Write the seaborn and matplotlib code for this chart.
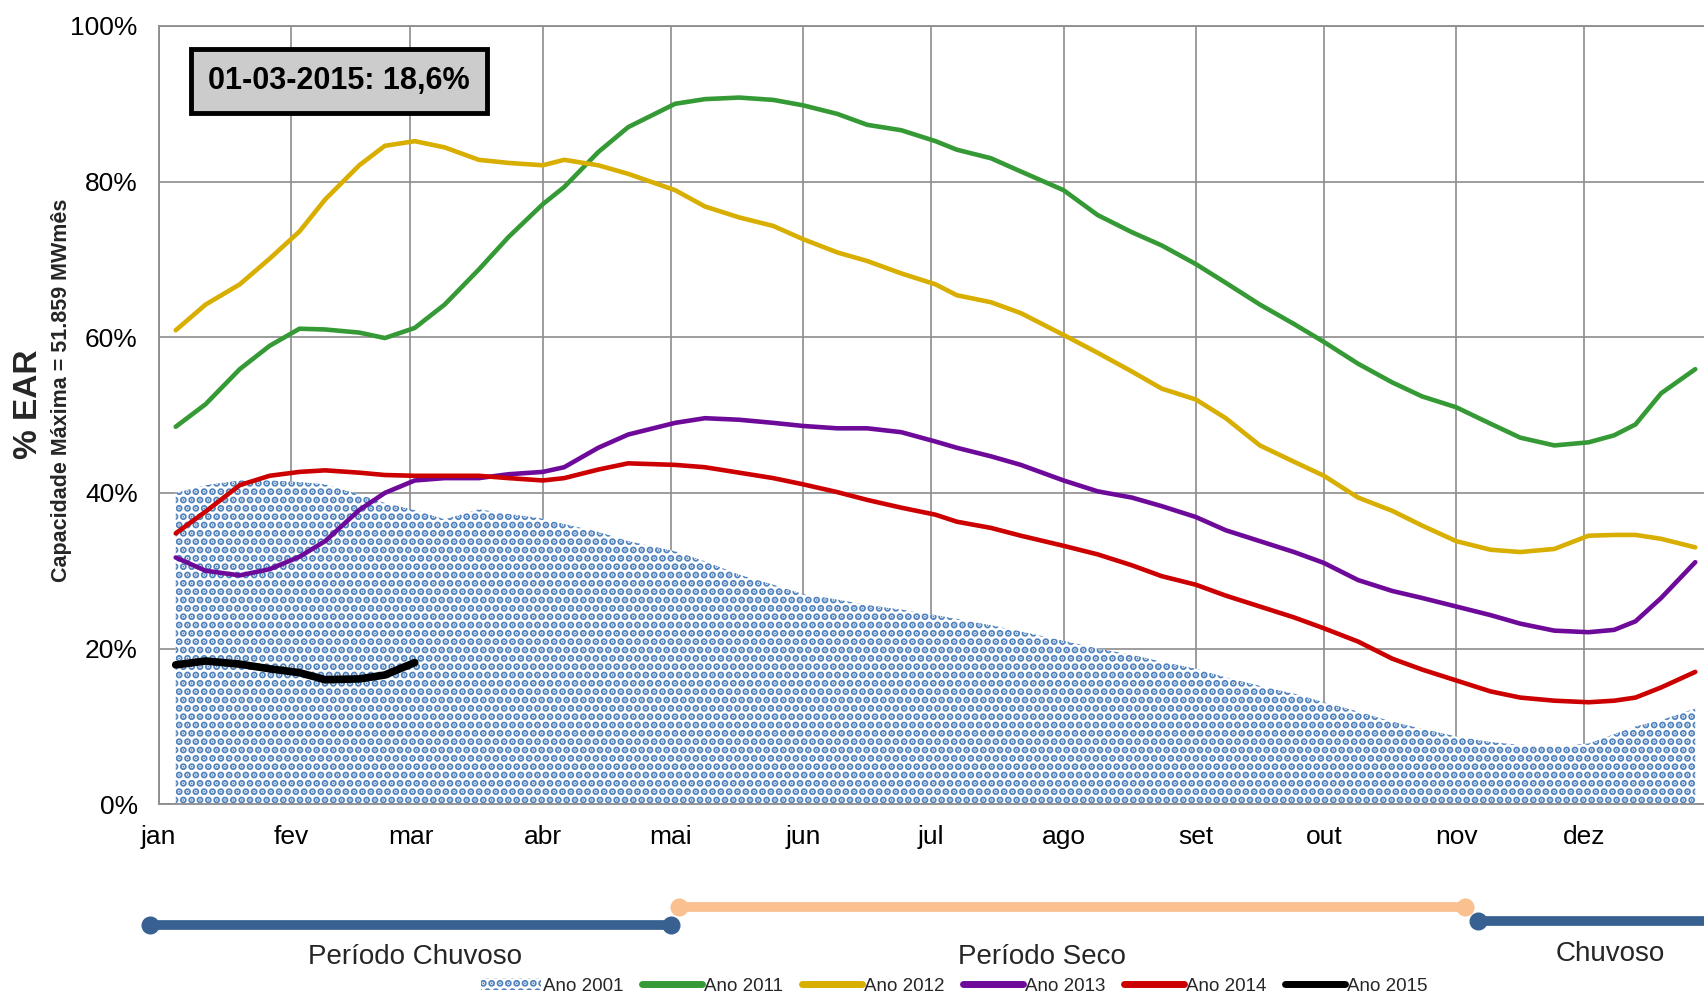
import numpy as np
import pandas as pd
import matplotlib
matplotlib.use("Agg")
import matplotlib.pyplot as plt
import matplotlib.patches as mpatches
import seaborn as sns

# dia do ano (0 = 1 jan) das leituras semanais
dias = [4, 11, 19, 26, 33, 39, 47, 53, 60, 67, 75, 82, 90, 95, 103, 110, 121, 128,
        136, 144, 151, 159, 166, 174, 182, 187, 195, 202, 212, 220, 228, 235, 243,
        250, 258, 266, 273, 281, 289, 296, 304, 312, 319, 327, 335, 341, 346, 352, 360]

ano_2001 = [40.0, 41.0, 41.6, 41.6, 41.4, 41.1, 39.8, 38.7, 37.8, 36.6, 37.9, 37.3,
            36.7, 36.0, 35.0, 33.8, 32.5, 31.2, 29.5, 28.2, 27.0, 26.3, 25.6, 25.0,
            24.3, 23.8, 23.0, 22.2, 21.0, 20.0, 19.2, 18.3, 17.4, 16.3, 15.2, 14.2,
            13.1, 11.9, 10.6, 9.7, 8.7, 8.0, 7.6, 7.4, 7.8, 9.0, 10.0, 10.8, 12.3]
ano_2011 = [48.5, 51.4, 55.9, 58.9, 61.1, 61.0, 60.6, 59.9, 61.2, 64.2, 68.7, 72.9,
            77.1, 79.3, 83.8, 87.0, 90.0, 90.6, 90.8, 90.5, 89.8, 88.7, 87.3, 86.6,
            85.2, 84.1, 83.0, 81.3, 78.9, 75.7, 73.5, 71.8, 69.4, 67.0, 64.2, 61.7,
            59.4, 56.6, 54.2, 52.4, 51.0, 48.9, 47.1, 46.1, 46.5, 47.4, 48.8, 52.8, 55.9]
ano_2012 = [60.9, 64.2, 66.8, 70.1, 73.6, 77.7, 82.1, 84.6, 85.2, 84.4, 82.8, 82.4,
            82.1, 82.8, 82.1, 81.0, 78.9, 76.8, 75.4, 74.3, 72.6, 70.9, 69.8, 68.2,
            66.8, 65.4, 64.5, 63.1, 60.3, 58.0, 55.6, 53.4, 52.0, 49.6, 46.1, 44.0,
            42.2, 39.4, 37.7, 35.8, 33.8, 32.7, 32.4, 32.8, 34.5, 34.6, 34.6, 34.1, 33.0]
ano_2013 = [31.7, 30.0, 29.4, 30.2, 31.8, 33.8, 37.8, 40.0, 41.6, 41.9, 41.9, 42.4,
            42.7, 43.3, 45.8, 47.5, 49.0, 49.6, 49.4, 49.0, 48.6, 48.3, 48.3, 47.8,
            46.6, 45.8, 44.7, 43.6, 41.6, 40.2, 39.4, 38.3, 36.9, 35.2, 33.8, 32.4,
            31.0, 28.8, 27.4, 26.5, 25.4, 24.3, 23.2, 22.3, 22.1, 22.4, 23.5, 26.5, 31.1]
ano_2014 = [34.8, 37.6, 41.0, 42.2, 42.7, 42.9, 42.6, 42.3, 42.2, 42.2, 42.2, 41.9,
            41.6, 41.9, 43.0, 43.8, 43.6, 43.3, 42.6, 41.9, 41.1, 40.1, 39.1, 38.1,
            37.2, 36.3, 35.5, 34.5, 33.2, 32.1, 30.7, 29.3, 28.2, 26.8, 25.4, 24.0,
            22.6, 20.9, 18.7, 17.3, 15.9, 14.5, 13.7, 13.3, 13.1, 13.3, 13.7, 15.0, 17.0]
ano_2015 = [17.9, 18.4, 18.0, 17.4, 16.9, 16.0, 16.1, 16.6, 18.2]

meses = ["jan", "fev", "mar", "abr", "mai", "jun", "jul", "ago", "set", "out", "nov", "dez"]
inicio_mes = [0, 31, 59, 90, 120, 151, 181, 212, 243, 273, 304, 334]

series = [("Ano 2011", ano_2011, "#359a35", 3.3),
          ("Ano 2012", ano_2012, "#d8ae00", 3.3),
          ("Ano 2013", ano_2013, "#6e0a9a", 3.3),
          ("Ano 2014", ano_2014, "#cc0000", 3.3)]

destaque = "01-03-2015: 18,6%"

sns.set_theme(style="white")
fonte = ["Liberation Sans Narrow", "Liberation Sans", "DejaVu Sans"]
plt.rcParams["font.family"] = fonte
plt.rcParams["hatch.color"] = "#4f81bd"
plt.rcParams["hatch.linewidth"] = 3.6

fig = plt.figure(figsize=(17.04, 9.99), dpi=100)
ax = fig.add_axes([0.0931, 0.195, 0.9143, 0.779])

# area do ano 2001, preenchida com pontilhado
ax.fill_between(dias, ano_2001, 0, facecolor="white", edgecolor="#4f81bd",
                hatch="..", linewidth=0, zorder=2)

for nome, vals, cor, lw in series:
    sns.lineplot(x=dias, y=vals, ax=ax, color=cor, linewidth=lw, label=nome,
                 zorder=3, solid_capstyle="round", solid_joinstyle="round")
sns.lineplot(x=dias[:len(ano_2015)], y=ano_2015, ax=ax, color="black", linewidth=5.5,
             label="Ano 2015", zorder=4, solid_capstyle="round", solid_joinstyle="round")

ax.set_xlim(0, 365)
ax.set_ylim(0, 100)
ax.set_xticks(inicio_mes)
ax.set_xticklabels(meses)
ax.set_yticks(range(0, 101, 20))
ax.set_yticklabels([f"{v}%" for v in range(0, 101, 20)])
ax.grid(True, color="#8c8c8c", linewidth=1.2)
ax.set_axisbelow(True)
ax.tick_params(axis="both", which="major", labelsize=19, length=6, width=1.2,
               color="#8c8c8c", direction="out", pad=9, labelcolor="black")
for lado in ["left", "bottom", "top"]:
    ax.spines[lado].set_color("#8c8c8c")
    ax.spines[lado].set_linewidth(1.3)
ax.spines["right"].set_visible(False)
ax.set_xlabel("")
ax.set_ylabel("")

ax.text(0.1157, 0.929, destaque, transform=ax.transAxes, ha="center", va="center",
        fontsize=22, fontweight="bold", color="black", zorder=6,
        bbox=dict(boxstyle="square,pad=0.55", facecolor="#cccccc", edgecolor="black",
                  linewidth=3.5))

fig.text(0.017, 0.595, "% EAR", rotation=90, ha="center", va="center",
         fontsize=24, fontweight="bold")
fig.text(0.036, 0.609, "Capacidade Máxima = 51.859 MWmês", rotation=90,
         ha="center", va="center", fontsize=15.5, fontweight="bold")

# periodos chuvoso / seco abaixo do eixo
azul = "#386192"
pessego = "#fac090"
ax.plot([-2, 120], [-15.5, -15.5], color=azul, linewidth=7, marker="o",
        markersize=12, clip_on=False, zorder=5)
ax.plot([122, 306], [-13.2, -13.2], color=pessego, linewidth=7, marker="o",
        markersize=12, clip_on=False, zorder=5)
ax.plot([309, 375], [-15.0, -15.0], color=azul, linewidth=7, marker="o",
        markevery=[0], markersize=12, clip_on=False, zorder=5)
ax.text(60, -19.6, "Período Chuvoso", ha="center", va="center", fontsize=20)
ax.text(207, -19.6, "Período Seco", ha="center", va="center", fontsize=20)
ax.text(340, -19.2, "Chuvoso", ha="center", va="center", fontsize=20)

handles, labels = ax.get_legend_handles_labels()
ax.get_legend().remove()
patch_2001 = mpatches.Patch(facecolor="white", edgecolor="#4f81bd", hatch="..",
                            linewidth=0, label="Ano 2001")
leg = fig.legend([patch_2001] + handles, ["Ano 2001"] + labels, loc="center",
                 bbox_to_anchor=(0.56, 0.013), ncol=6, frameon=False, fontsize=13.5,
                 handlelength=3.2, handleheight=0.6, handletextpad=0.1,
                 columnspacing=1.0, borderpad=0)
for linha in leg.get_lines():
    linha.set_linewidth(5)

fig.savefig("out.png", dpi=100)
